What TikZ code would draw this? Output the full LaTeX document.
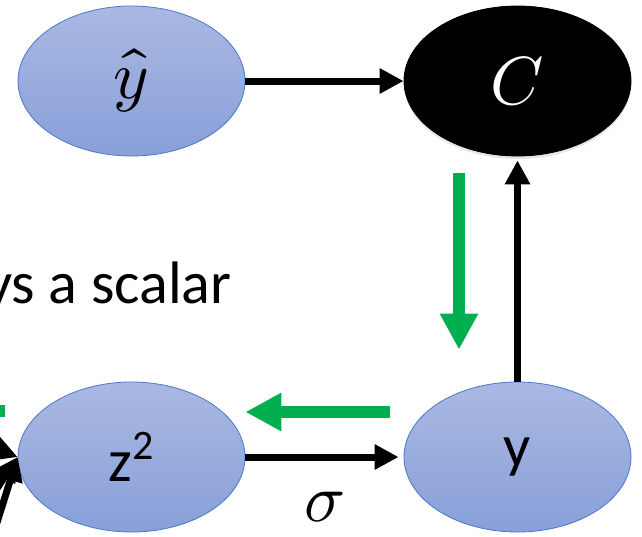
\documentclass[tikz,border=0pt]{standalone}
\usepackage{fontspec}
\usepackage{unicode-math}
\setmainfont{Carlito}
\setmathfont{Latin Modern Math}
\usetikzlibrary{arrows.meta,shapes.geometric,shadows}

\definecolor{nodetop}{HTML}{AAB9E3}
\definecolor{nodebot}{HTML}{889FD8}
\definecolor{nodeedge}{HTML}{4A78C6}
\definecolor{backgreen}{HTML}{00B050}

\begin{document}
\begin{tikzpicture}[x=1pt,y=-1pt,
    blob/.style={ellipse,minimum width=227pt,minimum height=150pt,inner sep=0pt,
      draw=nodeedge,line width=0.8pt,top color=nodetop,bottom color=nodebot,
      font=\fontsize{60}{66}\selectfont},
    mathtext/.style={font=\fontsize{68}{72}\selectfont},
    fwd/.style={line width=7pt,-{Triangle[length=24pt,width=24pt]}},
    bwd/.style={line width=12pt,draw=backgreen,-{Triangle[length=36pt,width=36pt]},
      color=backgreen}]

  \useasboundingbox (0,0) rectangle (642,536);

  % Nodes
  \node[blob,mathtext] (yhat) at (131.5,81) {$\hat{y}$};
  \node[blob,mathtext,fill=black,draw=black,top color=black,bottom color=black,text=white,
    drop shadow={shadow xshift=0pt,shadow yshift=-3pt,opacity=0.2}] (cost) at (517.5,81) {$C$};
  \node[blob] (ztwo) at (131.5,457) {z\textsuperscript{2}};
  \node[blob] (yout) at (517.5,457) {y};

  % Text
  \node[anchor=base west,inner sep=0pt,font=\fontsize{60}{66}\selectfont] (txt) at (-15,303) {ys a scalar};

  % Forward arrows
  \draw[fwd] (yhat) -- (cost);
  \draw[fwd,shorten >=4pt] (yout) -- (yout |- cost.south);
  \draw[fwd,shorten >=5pt] (ztwo) -- (yout)
    node[midway,below=28pt,mathtext] (sig) {$\sigma$};

  % Inputs from the left
  \coordinate (in1) at (-60,428);
  \coordinate (in2) at (-40,545);
  \coordinate (in3) at (-18,570);
  \draw[fwd] (in1) -- (ztwo.west);
  \draw[fwd] (in2) -- (ztwo.west);
  \draw[fwd] (in3) -- (ztwo.west);

  % Backward arrows
  \draw[bwd,shorten <=17pt,shorten >=32pt] ([xshift=-58.5pt]cost.south) -- ([xshift=-58.5pt]yout.north);
  \draw[bwd,shorten <=14pt] ([yshift=45pt]yout.west) -- ([yshift=45pt]ztwo.east);
  \draw[bwd] ([yshift=46pt,xshift=-13pt]ztwo.west) -- ++(-60,0);

\end{tikzpicture}
\end{document}
